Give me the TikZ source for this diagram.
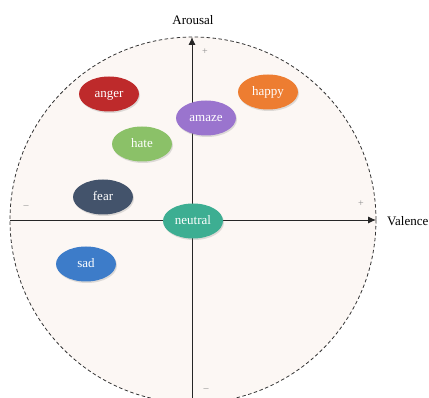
\documentclass[tikz,border=0pt]{standalone}
\usepackage{fontspec}
\setmainfont{Liberation Serif}
\usetikzlibrary{shadows,arrows.meta,shapes.geometric}
\definecolor{bgfill}{HTML}{FCF7F4}
\definecolor{cAnger}{HTML}{BE2A2B}
\definecolor{cHappy}{HTML}{ED7D31}
\definecolor{cAmaze}{HTML}{9A74CE}
\definecolor{cHate}{HTML}{8BC168}
\definecolor{cFear}{HTML}{43536B}
\definecolor{cNeutral}{HTML}{3DAE92}
\definecolor{cSad}{HTML}{3D7CC9}
\tikzset{
  emo/.style={ellipse, minimum width=60pt, minimum height=35pt, inner sep=0pt,
    text=white, font=\fontsize{13}{15}\selectfont, text height=1.5ex, text depth=0.1ex,
    drop shadow={opacity=0.25, shadow xshift=1pt, shadow yshift=-1.5pt}},
  axis/.style={line width=0.9pt, black!85, -{Latex[length=8pt,width=7pt]}},
  sign/.style={text=black!45, font=\fontsize{10}{12}\selectfont, inner sep=0pt},
  axlabel/.style={font=\fontsize{13}{15}\selectfont, inner sep=0pt}
}
\begin{document}
\begin{tikzpicture}[x=1pt,y=-1pt]
\useasboundingbox (0,0) rectangle (429,398);
\clip (0,0) rectangle (429,398);
\fill[bgfill] (193,220) circle (183);
\draw[line width=0.8pt, black!80, dash pattern=on 3.5pt off 2.5pt] (193,220) circle (183);
\coordinate (vb) at (192,400);
\coordinate (vt) at (192,37);
\coordinate (hl) at (10,220);
\coordinate (hr) at (376,220);
\draw[axis] (vb) -- (vt);
\draw[axis] (hl) -- (hr);
\node[axlabel] (arousal) at (193,20) {Arousal};
\node[axlabel, anchor=west] (valence) at (387,221) {Valence};
\node[sign] (p1) at (205,52) {+};
\node[sign] (p2) at (361,204) {+};
\node[sign] (m1) at (26,207) {–};
\node[sign] (m2) at (206,390) {–};
\node[emo, fill=cAnger] (anger) at (109,94) {anger};
\node[emo, fill=cHappy] (happy) at (268,92) {happy};
\node[emo, fill=cAmaze] (amaze) at (206,118) {amaze};
\node[emo, fill=cHate] (hate) at (142,144) {hate};
\node[emo, fill=cFear] (fear) at (103,197) {fear};
\node[emo, fill=cNeutral] (neutral) at (193,221) {neutral};
\node[emo, fill=cSad] (sad) at (86,264) {sad};
\end{tikzpicture}
\end{document}
